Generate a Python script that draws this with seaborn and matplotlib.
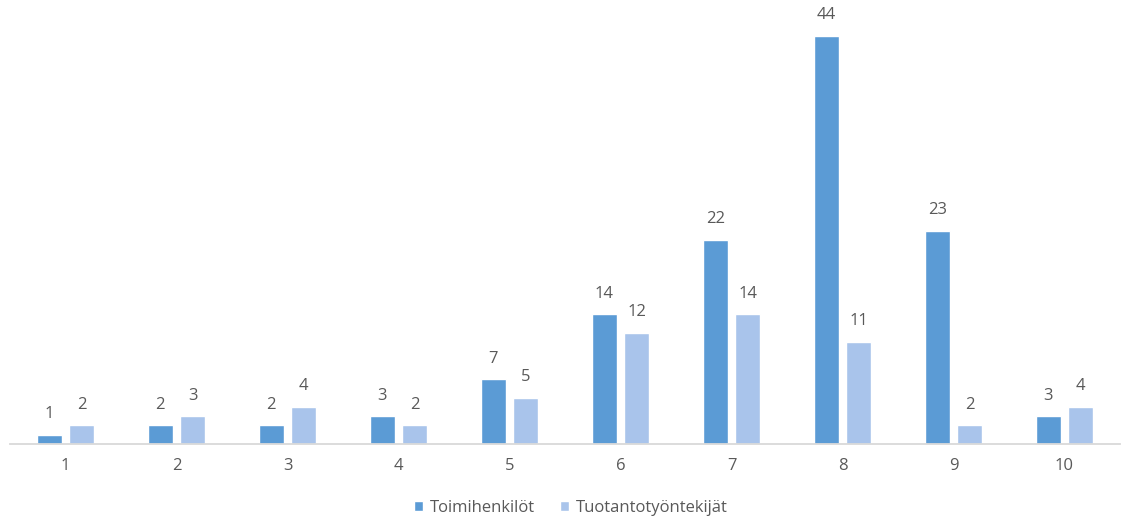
import matplotlib
matplotlib.use("Agg")
import matplotlib.pyplot as plt
import seaborn as sns
import pandas as pd

categories = ["1", "2", "3", "4", "5", "6", "7", "8", "9", "10"]
series_names = ["Toimihenkilöt", "Tuotantotyöntekijät"]
toimihenkilot = [1, 2, 2, 3, 7, 14, 22, 44, 23, 3]
tuotanto = [2, 3, 4, 2, 5, 12, 14, 11, 2, 4]
colors = ["#5B9BD5", "#A9C4EB"]

df = pd.DataFrame({
    "cat": categories * 2,
    "series": [series_names[0]] * len(categories) + [series_names[1]] * len(categories),
    "value": toimihenkilot + tuotanto,
})

sns.set_theme(style="white")
plt.rcParams["font.family"] = ["Open Sans", "DejaVu Sans"]

fig = plt.figure(figsize=(11.23, 5.17), dpi=100)
ax = fig.add_axes([10 / 1123, 73 / 517, 1110 / 1123, 434 / 517])

sns.barplot(data=df, x="cat", y="value", hue="series", order=categories,
            hue_order=series_names, palette=colors, width=0.584, gap=0.23,
            saturation=1, ax=ax, legend=True)

for cont in ax.containers:
    ax.bar_label(cont, padding=9, fontsize=12, color="#595959")

ax.set_xlim(-0.5, 9.5)
ax.set_ylim(0, 46.8)
ax.set_xlabel("")
ax.set_ylabel("")
ax.set_yticks([])
for s in ["top", "left", "right"]:
    ax.spines[s].set_visible(False)
ax.spines["bottom"].set_color("#D9D9D9")
ax.spines["bottom"].set_linewidth(1.3)
ax.tick_params(axis="x", length=0, pad=10, labelsize=12, labelcolor="#595959")

handles, labels = ax.get_legend_handles_labels()
ax.legend(handles, labels, loc="center", bbox_to_anchor=(0.505, -0.148), ncol=2,
          frameon=False, fontsize=12, handlelength=0.55, handleheight=0.55,
          handletextpad=0.4, columnspacing=1.5, labelcolor="#595959")

fig.savefig("out.png", dpi=100)
